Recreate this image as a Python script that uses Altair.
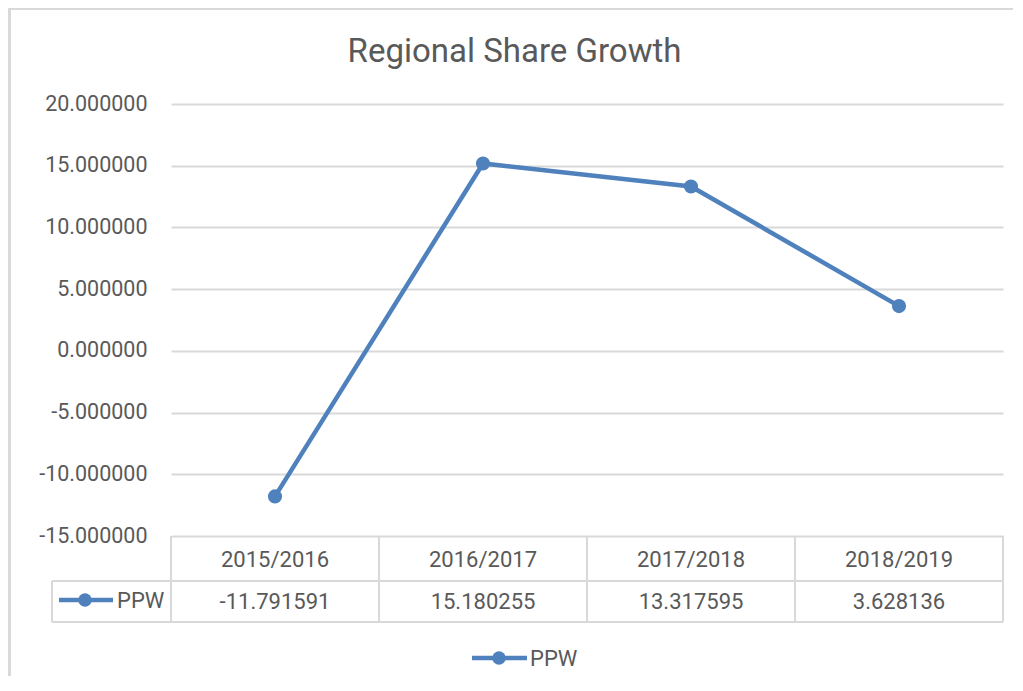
import altair as alt
import pandas as pd

# ---- data ----
periods = ["2015/2016", "2016/2017", "2017/2018", "2018/2019"]
ppw_values = [-11.791591, 15.180255, 13.317595, 3.628136]
series_name = "PPW"
title_text = "Regional Share Growth"
y_ticks = [-15, -10, -5, 0, 5, 10, 15, 20]

df = pd.DataFrame({"period": periods, "value": ppw_values})
one = pd.DataFrame({"k": [0]})

BLUE = "#4f81bd"
TEXT = "#595959"
GRID = "#d9d9d9"
FONT = "Roboto"
W, H = 832, 432

x_scale = alt.Scale(type="band", paddingInner=0, paddingOuter=0, domain=periods)


def xc(pos=0.5):
    return alt.X("period:N", sort=periods, scale=x_scale, axis=None, bandPosition=pos)


y_enc = alt.Y(
    "value:Q",
    scale=alt.Scale(domain=[-15, 20], nice=False, zero=False),
    axis=alt.Axis(
        values=y_ticks, grid=True, gridColor=GRID, gridWidth=2,
        labelExpr="replace(format(datum.value, '.6f'), '\u2212', '-')",
        domain=False, ticks=False, labelPadding=24, labelFont=FONT,
        labelFontSize=21.5, labelColor=TEXT, title=None,
    ),
)

base = alt.Chart(df)

line = base.mark_line(color=BLUE, strokeWidth=4.5).encode(x=xc(), y=y_enc)
pts = base.mark_circle(color=BLUE, size=200, opacity=1).encode(x=xc(), y=y_enc)

# data table
vrules = base.mark_rule(color=GRID, strokeWidth=2).encode(
    x=xc(0), y=alt.value(H), y2=alt.value(518))
vrule_end = base.transform_filter(alt.datum.period == periods[-1]).mark_rule(
    color=GRID, strokeWidth=2).encode(x=xc(1), y=alt.value(H), y2=alt.value(518))
left_v = alt.Chart(one).mark_rule(color=GRID, strokeWidth=2).encode(
    x=alt.value(-119), y=alt.value(477), y2=alt.value(518))
h1 = alt.Chart(one).mark_rule(color=GRID, strokeWidth=2).encode(
    x=alt.value(-119), x2=alt.value(W), y=alt.value(477))
h2 = alt.Chart(one).mark_rule(color=GRID, strokeWidth=2).encode(
    x=alt.value(-119), x2=alt.value(W), y=alt.value(518))

hdr = base.mark_text(font=FONT, fontSize=22, color=TEXT,
                     baseline="alphabetic", align="center").encode(
    x=xc(), y=alt.value(463), text="period:N")
vals = base.transform_calculate(
    label="replace(format(datum.value, '.6f'), '\u2212', '-')"
).mark_text(font=FONT, fontSize=22, color=TEXT,
            baseline="alphabetic", align="center").encode(
    x=xc(), y=alt.value(505), text="label:N")

# legend key inside table
lk_line = alt.Chart(one).mark_rule(color=BLUE, strokeWidth=4.5).encode(
    x=alt.value(-112), x2=alt.value(-58), y=alt.value(496))
lk_pt = alt.Chart(one).mark_circle(color=BLUE, size=180, opacity=1).encode(
    x=alt.value(-86), y=alt.value(496))
lk_txt = alt.Chart(one).mark_text(font=FONT, fontSize=22, color=TEXT,
                                  baseline="alphabetic", align="left").encode(
    x=alt.value(-54), y=alt.value(504), text=alt.value(series_name))

# bottom legend
lg_line = alt.Chart(one).mark_rule(color=BLUE, strokeWidth=4.5).encode(
    x=alt.value(301), x2=alt.value(356), y=alt.value(554))
lg_pt = alt.Chart(one).mark_circle(color=BLUE, size=180, opacity=1).encode(
    x=alt.value(328), y=alt.value(554))
lg_txt = alt.Chart(one).mark_text(font=FONT, fontSize=22, color=TEXT,
                                  baseline="alphabetic", align="left").encode(
    x=alt.value(359), y=alt.value(562), text=alt.value(series_name))

# title
ttl = alt.Chart(one).mark_text(font=FONT, fontSize=33, color=TEXT,
                               baseline="alphabetic", align="center").encode(
    x=alt.value(343.5), y=alt.value(-42), text=alt.value(title_text))

# outer chart border
b_top = alt.Chart(one).mark_rule(color=GRID, strokeWidth=2).encode(
    x=alt.value(-163), x2=alt.value(W + 10), y=alt.value(-95))
b_left = alt.Chart(one).mark_rule(color=GRID, strokeWidth=3).encode(
    x=alt.value(-161.5), y=alt.value(-96), y2=alt.value(H + 140))

chart = alt.layer(
    b_top, b_left, h1, h2, left_v, vrules, vrule_end,
    line, pts, hdr, vals, lk_line, lk_pt, lk_txt, lg_line, lg_pt, lg_txt, ttl,
).properties(
    width=W, height=H,
    autosize=alt.AutoSizeParams(type="none"),
    padding={"left": 163, "top": 96, "right": 10, "bottom": 140},
    background="white",
).configure_view(stroke=None)

chart.save("out.html", embed_options={"renderer": "svg", "actions": False})
